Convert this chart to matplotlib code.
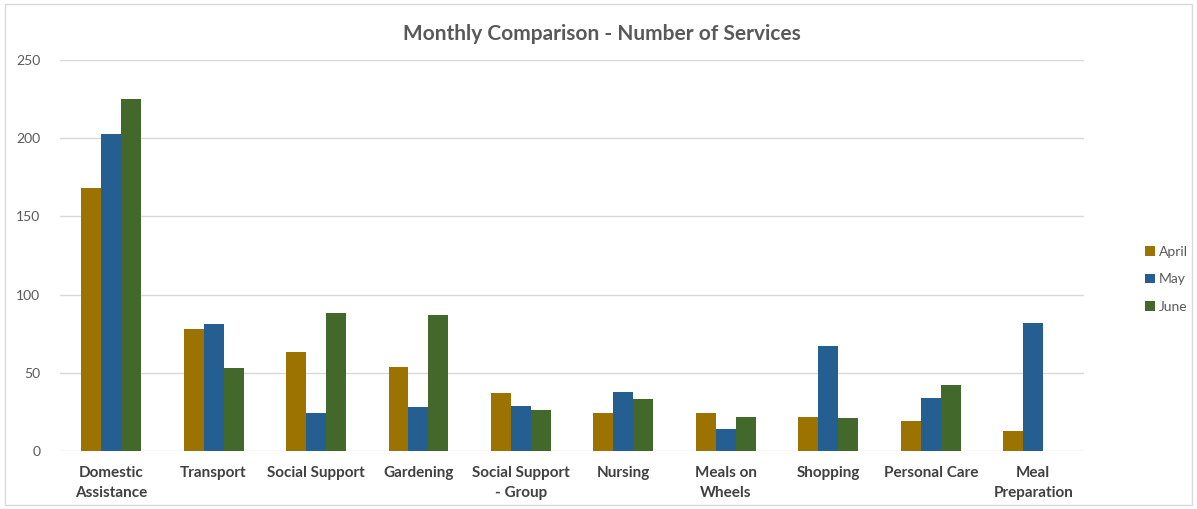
import matplotlib
matplotlib.use("Agg")
import matplotlib.pyplot as plt
import numpy as np
from matplotlib.patches import Rectangle

categories = ["Domestic\nAssistance", "Transport", "Social Support", "Gardening",
              "Social Support\n- Group", "Nursing", "Meals on\nWheels", "Shopping",
              "Personal Care", "Meal\nPreparation"]
april = [168, 78, 63, 54, 37, 24, 24, 22, 19, 13]
may = [203, 81, 24, 28, 29, 38, 14, 67, 34, 82]
june = [225, 53, 88, 87, 26, 33, 22, 21, 42, 0]
series_names = ["April", "May", "June"]
colors = ["#9C7200", "#255E91", "#43682B"]
yticks = [0, 50, 100, 150, 200, 250]

plt.rcParams['font.family'] = ['Lato', 'DejaVu Sans']

fig = plt.figure(figsize=(11.97, 5.09), dpi=100)
ax = fig.add_axes([0.050, 0.114, 0.856, 0.768])

x = np.arange(len(categories))
w = 0.195
for i, (vals, name, c) in enumerate(zip([april, may, june], series_names, colors)):
    ax.bar(x + (i - 1) * w, vals, width=w, color=c, label=name, zorder=3)

ax.set_xlim(-0.5, len(categories) - 0.5)
ax.set_ylim(0, 250)
ax.set_yticks(yticks)
ax.set_yticklabels([str(t) for t in yticks], color="#595959", fontsize=10)
ax.set_xticks(x)
ax.set_xticklabels(categories, fontsize=11, fontweight="bold", color="#404040",
                   linespacing=1.5)
ax.tick_params(axis="both", length=0)
ax.tick_params(axis="x", pad=11)
ax.tick_params(axis="y", pad=14)
ax.grid(axis="y", color="#d9d9d9", linewidth=1, zorder=0)
for s in ax.spines.values():
    s.set_visible(False)

fig.text(0.503, 0.933, "Monthly Comparison - Number of Services", ha="center", va="center",
         fontsize=15, fontweight="bold", color="#595959")

leg = fig.legend(loc="center left", bbox_to_anchor=(0.946, 0.451), frameon=False,
                 fontsize=10, handlelength=0.7, handleheight=0.7, handletextpad=0.3,
                 labelspacing=1.1)
for t in leg.get_texts():
    t.set_color("#595959")

fig.patches.append(Rectangle((0.004, 0.008), 0.992, 0.984, transform=fig.transFigure,
                             fill=False, edgecolor="#d9d9d9", linewidth=1))

fig.savefig("out.png", dpi=100)
